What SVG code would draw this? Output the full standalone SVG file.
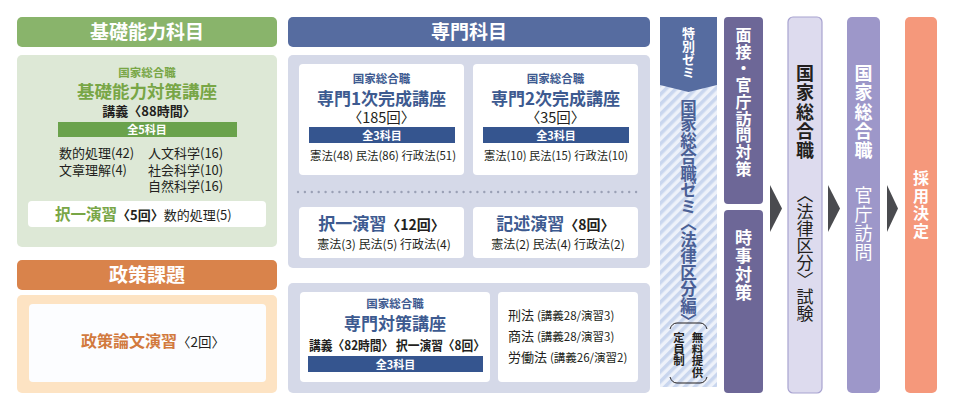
<svg xmlns="http://www.w3.org/2000/svg" width="970" height="415" viewBox="0 0 970 415">
<style>
text{font-family:"Noto Sans CJK JP","Noto Sans",sans-serif;}
.b{font-weight:700;}
.hd{font-size:19px;font-weight:700;fill:#fff;text-anchor:middle;}
.mid{text-anchor:middle;}
.v{writing-mode:vertical-rl;text-orientation:upright;}
.blk{fill:#231f20;}
.gr{fill:#78a646;}
.bl{fill:#3d5a90;}
.or{fill:#d27a3e;}
.wb{fill:#fff;}
.bar{font-size:11px;font-weight:700;fill:#fff;text-anchor:middle;}
</style>
<defs>
<pattern id="stripe" width="7" height="7" patternUnits="userSpaceOnUse" patternTransform="rotate(45)">
<rect width="7" height="7" fill="#eef2fa"/>
<rect width="3.5" height="7" fill="#c9d6ee"/>
</pattern>
</defs>
<rect width="970" height="415" fill="#fff"/>

<g id="kiso">
<rect x="17" y="17" width="260" height="30" rx="5" fill="#89b46b"/>
<text x="147" y="39" class="hd">基礎能力科目</text>
<rect x="17" y="55" width="260" height="192" rx="5" fill="#dde8d6"/>
<text x="147" y="76.5" class="mid b gr" font-size="11.5">国家総合職</text>
<text x="147" y="98" class="mid b gr" font-size="17.5">基礎能力対策講座</text>
<text x="149" y="115.5" class="mid b blk" font-size="13">講義〈88時間〉</text>
<rect x="58" y="122" width="179" height="15" fill="#6aa24c"/>
<text x="147" y="134" class="bar">全5科目</text>
<g class="blk" font-size="13">
<text x="59" y="158">数的処理(42)</text>
<text x="148" y="158">人文科学(16)</text>
<text x="59" y="175">文章理解(4)</text>
<text x="148" y="175">社会科学(10)</text>
<text x="148" y="191">自然科学(16)</text>
</g>
<rect x="28" y="201" width="238" height="26" rx="4" fill="#fff"/>
<text x="55" y="220" font-size="13" class="blk"><tspan class="b gr" font-size="15.5">択一演習</tspan><tspan class="b">〈5回〉</tspan><tspan>数的処理(5)</tspan></text>
</g>

<g id="seisaku">
<rect x="17" y="260" width="260" height="30" rx="5" fill="#d9834b"/>
<text x="147" y="282" class="hd">政策課題</text>
<rect x="17" y="295" width="260" height="98" rx="5" fill="#fde3c3"/>
<rect x="29" y="304" width="237" height="78" rx="4" fill="#fcfdff"/>
<text x="153" y="347" class="mid blk" font-size="13.5"><tspan class="b or" font-size="16">政策論文演習</tspan><tspan>〈2回〉</tspan></text>
</g>

<g id="senmon">
<rect x="288" y="17" width="362" height="30" rx="5" fill="#566ca0"/>
<text x="469" y="39" class="hd">専門科目</text>
<rect x="288" y="55" width="362" height="213" rx="5" fill="#d5d9e8"/>
</g>

<g id="senmon1">
<rect x="299" y="64" width="165" height="111" rx="4" fill="#fff"/>
<text x="381.5" y="83" class="mid b bl" font-size="11.5">国家総合職</text>
<text x="381.5" y="104.5" class="mid b bl" font-size="17">専門1次完成講座</text>
<text x="381.5" y="123" class="mid blk" font-size="14.5">〈185回〉</text>
<rect x="309" y="127" width="146" height="16" fill="#35558f"/>
<text x="382" y="139.5" class="bar">全3科目</text>
<text x="383" y="160" class="mid blk" font-size="11.5" textLength="146" lengthAdjust="spacingAndGlyphs">憲法(48) 民法(86) 行政法(51)</text>
</g>

<g id="senmon2">
<rect x="473" y="64" width="165" height="111" rx="4" fill="#fff"/>
<text x="555.5" y="83" class="mid b bl" font-size="11.5">国家総合職</text>
<text x="555.5" y="104.5" class="mid b bl" font-size="17">専門2次完成講座</text>
<text x="555.5" y="123" class="mid blk" font-size="14.5">〈35回〉</text>
<rect x="483" y="127" width="146" height="16" fill="#35558f"/>
<text x="556" y="139.5" class="bar">全3科目</text>
<text x="556" y="160" class="mid blk" font-size="11.5" textLength="144" lengthAdjust="spacingAndGlyphs">憲法(10) 民法(15) 行政法(10)</text>
</g>

<line x1="298" y1="192" x2="640" y2="192" stroke="#9aa0b5" stroke-width="2.4" stroke-linecap="round" stroke-dasharray="0 6.9"/>

<g id="takuitsu">
<rect x="299" y="207" width="165" height="51" rx="4" fill="#fff"/>
<text x="381.5" y="230" class="mid blk" font-size="14"><tspan class="b bl" font-size="17">択一演習</tspan><tspan class="b">〈12回〉</tspan></text>
<text x="384" y="249" class="mid blk" font-size="12">憲法(3) 民法(5) 行政法(4)</text>
</g>

<g id="kijutsu">
<rect x="473" y="207" width="165" height="51" rx="4" fill="#fff"/>
<text x="555.5" y="230" class="mid blk" font-size="14"><tspan class="b bl" font-size="17">記述演習</tspan><tspan class="b">〈8回〉</tspan></text>
<text x="558" y="249" class="mid blk" font-size="12">憲法(2) 民法(4) 行政法(2)</text>
</g>

<g id="senmontaisaku">
<rect x="288" y="283" width="362" height="110" rx="5" fill="#d5d9e8"/>
<rect x="300" y="292" width="190" height="90" rx="4" fill="#fff"/>
<text x="395" y="307.5" class="mid b bl" font-size="11.5">国家総合職</text>
<text x="395" y="329.5" class="mid b bl" font-size="17">専門対策講座</text>
<text x="397" y="349.5" class="mid b blk" font-size="13" textLength="176" lengthAdjust="spacingAndGlyphs">講義〈82時間〉 択一演習〈8回〉</text>
<rect x="308" y="356" width="175" height="16" fill="#35558f"/>
<text x="395.5" y="368.5" class="bar">全3科目</text>
<rect x="498" y="292" width="140" height="90" rx="4" fill="#fff"/>
<g class="blk">
<text x="508" y="320" font-size="13">刑法 <tspan font-size="11.5">(講義28/演習3)</tspan></text>
<text x="508" y="341" font-size="13">商法 <tspan font-size="11.5">(講義28/演習3)</tspan></text>
<text x="508" y="362" font-size="13">労働法 <tspan font-size="11.5">(講義26/演習2)</tspan></text>
</g>
</g>

<g id="zemi">
<rect x="660" y="17" width="57" height="370" fill="url(#stripe)"/>
<polygon points="660,17 717,17 717,85 688.5,92 660,85" fill="#566ca0"/>
<text x="688.5" y="27" class="v b wb" font-size="13">特別ゼミ</text>
<text x="688.5" y="99" class="v b" fill="#4a5f95" font-size="16.5">国家総合職ゼミ〈法律区分編〉</text>
<path d="M670,329 Q672,323 677,323 L700,323 Q705,323 707,329" fill="none" stroke="#231f20" stroke-width="1"/>
<path d="M670,377 Q672,383 677,383 L700,383 Q705,383 707,377" fill="none" stroke="#231f20" stroke-width="1"/>
<text x="697.5" y="332" class="v b blk" font-size="11.5">無料提供</text>
<text x="679" y="332" class="v b blk" font-size="11.5">定員制</text>
</g>

<g id="mensetsu">
<rect x="724" y="17" width="39" height="187" rx="4" fill="#6d6797"/>
<text x="743.5" y="27" class="v b wb" font-size="16" letter-spacing="0.7">面接・官庁訪問対策</text>
</g>
<g id="jiji">
<rect x="724" y="210" width="39" height="183" rx="4" fill="#6d6797"/>
<text x="743.5" y="229" class="v b wb" font-size="17" letter-spacing="1.5">時事対策</text>
</g>

<g id="connectors" fill="#4a4b4f">
<polygon points="770,185 782,208.5 770,232"/>
<polygon points="828,185 840,208.5 828,232"/>
<polygon points="887,185 898,208.5 887,232"/>
</g>

<g id="shiken">
<rect x="788" y="17" width="34" height="376" rx="5" fill="#dddbee" stroke="#a8a3d0" stroke-width="1.2"/>
<text x="805" y="64" class="v b blk" font-size="18" letter-spacing="1.4">国家総合職</text>
<text x="805" y="186" class="v blk" font-size="17">〈法律区分〉試験</text>
</g>

<g id="houmon">
<rect x="847" y="17" width="33" height="376" rx="5" fill="#9d97c9"/>
<text x="863.5" y="64" class="v b wb" font-size="18" letter-spacing="1.4">国家総合職</text>
<text x="863.5" y="186" class="v wb" font-size="18" letter-spacing="1">官庁訪問</text>
</g>

<g id="saiyou">
<rect x="905" y="17" width="32" height="376" rx="5" fill="#f5987b"/>
<text x="921" y="170" class="v b wb" font-size="16" letter-spacing="1.5">採用決定</text>
</g>
</svg>
